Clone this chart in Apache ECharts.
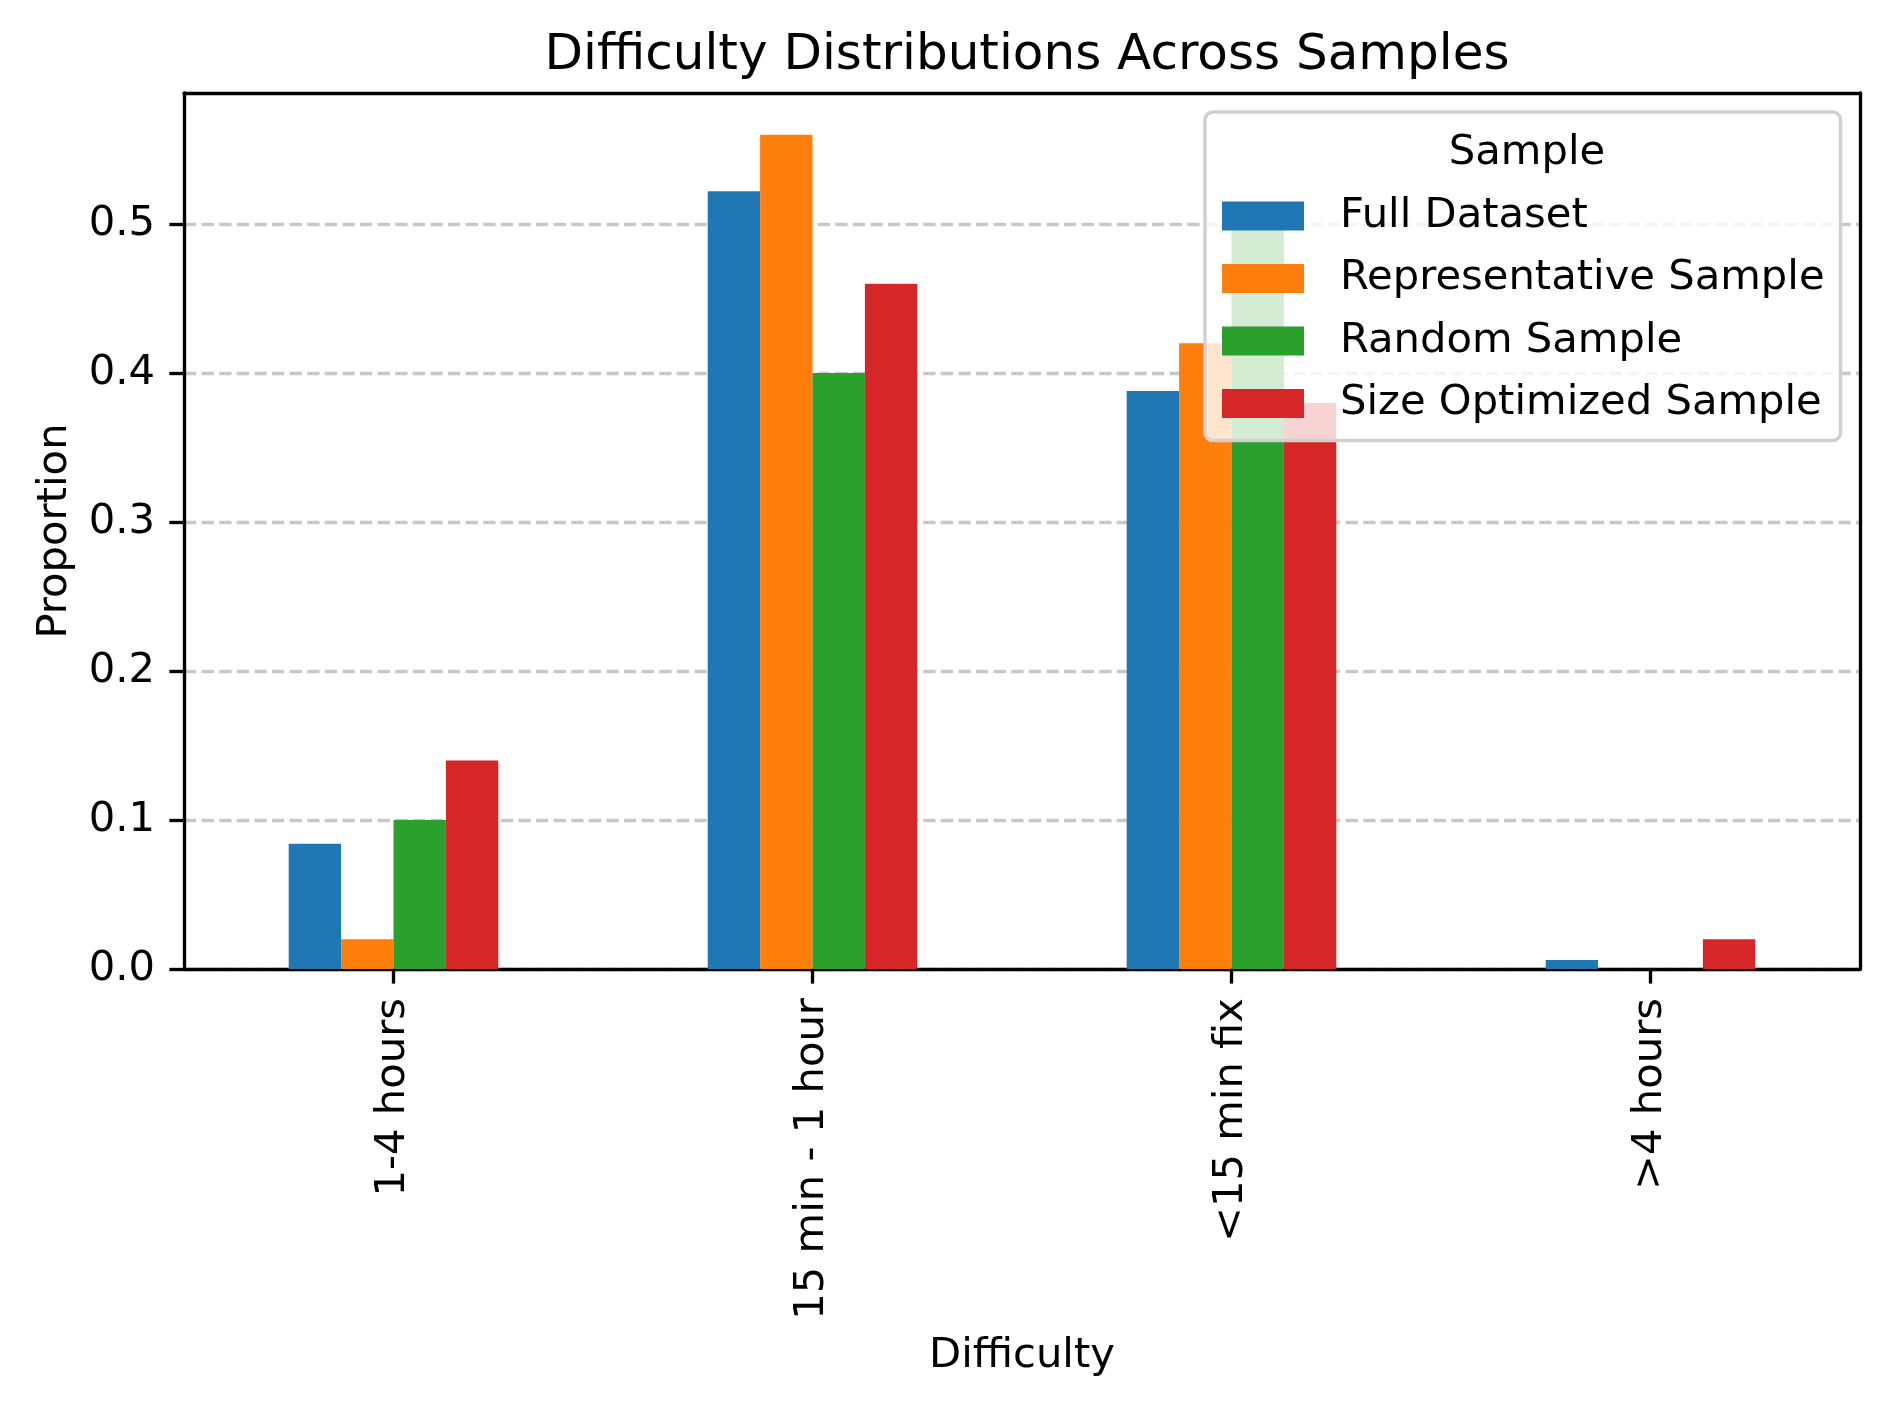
<!DOCTYPE html>
<html>
<head>
<meta charset="utf-8">
<script src="https://cdn.jsdelivr.net/npm/echarts@6/dist/echarts.min.js"></script>
<style>
html,body{margin:0;padding:0;background:#fff;}
#chart{width:1889px;height:1408px;}
</style>
</head>
<body>
<div id="chart"></div>
<script>
const categories = ['1-4 hours', '15 min - 1 hour', '<15 min fix', '>4 hours'];
const seriesNames = ['Full Dataset', 'Representative Sample', 'Random Sample', 'Size Optimized Sample'];
const fullDataset = [0.084, 0.522, 0.388, 0.006];
const representativeSample = [0.02, 0.56, 0.42, 0];
const randomSample = [0.10, 0.40, 0.50, 0];
const sizeOptimizedSample = [0.14, 0.46, 0.38, 0.02];
const yTickValues = [0.0, 0.1, 0.2, 0.3, 0.4, 0.5];
const colors = ['#1f77b4', '#ff7f0e', '#2ca02c', '#d62728'];
const yMax = 0.588;

const FONT = 'DejaVu Sans';
const FS = 41.7;
const LW = 3.33;

const seriesData = [fullDataset, representativeSample, randomSample, sizeOptimizedSample];

const chart = echarts.init(document.getElementById('chart'), null, {renderer: 'canvas'});
const option = {
  animation: false,
  backgroundColor: '#ffffff',
  textStyle: {fontFamily: FONT, color: '#000'},
  color: colors,
  title: [
    {
      text: 'Difficulty Distributions Across Samples',
      left: 1022, top: 26, textAlign: 'center',
      textStyle: {fontFamily: FONT, fontSize: 50, fontWeight: 'normal', color: '#000', lineHeight: 50}
    },
    {
      text: 'Sample',
      left: 1522, top: 127, textAlign: 'center', z: 10,
      textStyle: {fontFamily: FONT, fontSize: FS, fontWeight: 'normal', color: '#000', lineHeight: 42}
    }
  ],
  legend: {
    orient: 'vertical',
    left: 1205, top: 112,
    padding: [83, 16, 16, 17],
    itemWidth: 82, itemHeight: 29,
    itemGap: 20.5,
    icon: 'rect',
    backgroundColor: 'rgba(255,255,255,0.8)',
    borderColor: '#d0d0d0',
    borderWidth: 3.5,
    borderRadius: 8,
    data: seriesNames,
    textStyle: {fontFamily: FONT, fontSize: FS, color: '#000', lineHeight: 42, padding: [0, 0, 0, 31]}
  },
  grid: {left: 184, right: 29, top: 93, bottom: 439, containLabel: false},
  xAxis: [
    {
      type: 'category',
      data: categories,
      name: 'Difficulty',
      nameLocation: 'middle',
      nameGap: 366,
      nameTextStyle: {fontFamily: FONT, fontSize: FS, color: '#000', lineHeight: 42},
      axisLine: {show: true, onZero: false, lineStyle: {color: '#000', width: LW}},
      axisTick: {show: true, alignWithLabel: true, length: 14.6, lineStyle: {color: '#000', width: LW}},
      axisLabel: {interval: 0, rotate: 90, margin: 29, fontFamily: FONT, fontSize: FS, color: '#000'},
      splitLine: {show: false}
    },
    {
      type: 'category',
      data: categories,
      position: 'top',
      axisLine: {show: true, onZero: false, lineStyle: {color: '#000', width: LW}},
      axisTick: {show: false},
      axisLabel: {show: false},
      splitLine: {show: false}
    }
  ],
  yAxis: [
    {
      type: 'value',
      min: 0, max: yMax, interval: 0.1,
      name: 'Proportion',
      nameLocation: 'middle',
      nameGap: 108,
      nameTextStyle: {fontFamily: FONT, fontSize: FS, color: '#000', lineHeight: 42},
      axisLine: {show: true, onZero: false, lineStyle: {color: '#000', width: LW}},
      axisTick: {show: true, customValues: yTickValues, length: 14.6, lineStyle: {color: '#000', width: LW}},
      axisLabel: {
        customValues: yTickValues,
        margin: 29, fontFamily: FONT, fontSize: FS, color: '#000',
        formatter: function (v) {
          const t = yTickValues.find(x => Math.abs(x - v) < 1e-9);
          return t === undefined ? '' : t.toFixed(1);
        }
      },
      splitLine: {show: true, lineStyle: {color: '#c8c8c8', width: LW, type: [12.3, 5.3]}}
    },
    {
      type: 'value',
      min: 0, max: yMax, interval: 0.1,
      position: 'right',
      axisLine: {show: true, onZero: false, lineStyle: {color: '#000', width: LW}},
      axisTick: {show: false},
      axisLabel: {show: false},
      splitLine: {show: false}
    }
  ],
  series: seriesNames.map((name, i) => ({
    name: name,
    type: 'bar',
    xAxisIndex: 0,
    yAxisIndex: 0,
    data: seriesData[i],
    barWidth: 52.4,
    barGap: '0%',
    itemStyle: {color: colors[i]},
    emphasis: {disabled: true}
  }))
};
chart.setOption(option);
</script>
</body>
</html>
